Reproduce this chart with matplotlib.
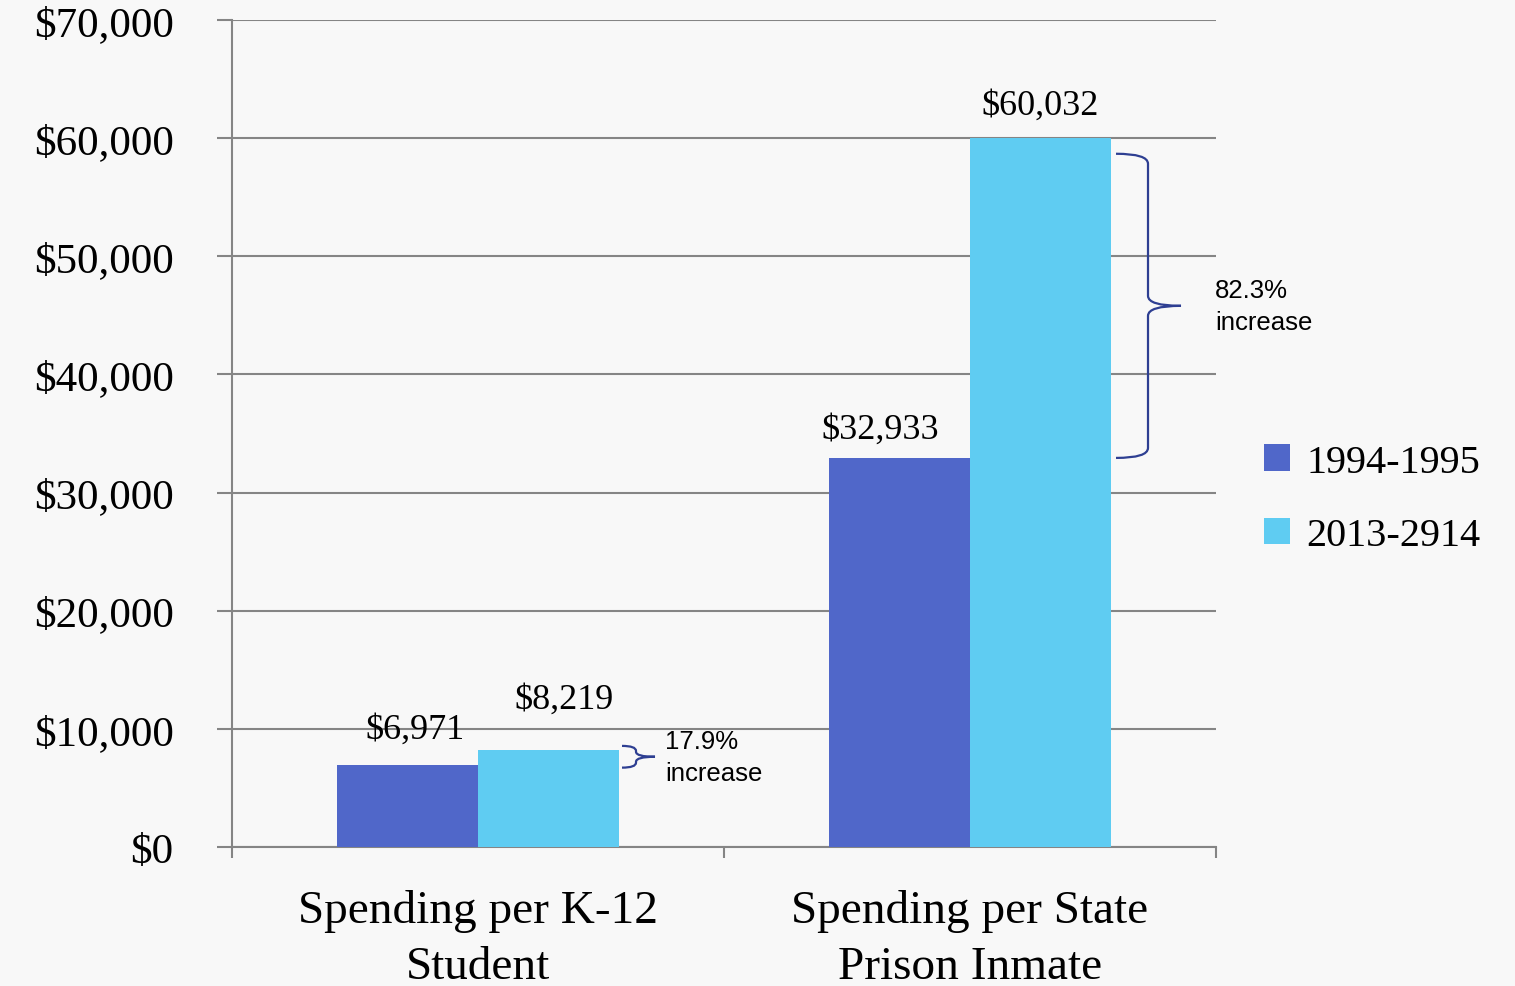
import matplotlib
matplotlib.use("Agg")
import matplotlib.pyplot as plt
from matplotlib.path import Path
from matplotlib.patches import PathPatch, Patch
import numpy as np

# ---- data ----
categories = ["Spending per K-12\nStudent", "Spending per State\nPrison Inmate"]
series_names = ["1994-1995", "2013-2914"]
values_1994 = [6971, 32933]
values_2013 = [8219, 60032]
value_labels_1994 = ["$6,971", "$32,933"]
value_labels_2013 = ["$8,219", "$60,032"]
increase_labels = ["17.9%\nincrease", "82.3%\nincrease"]
yticks = [0, 10000, 20000, 30000, 40000, 50000, 60000, 70000]
ytick_labels = ["$0", "$10,000", "$20,000", "$30,000", "$40,000", "$50,000", "$60,000", "$70,000"]

# ---- style ----
C1 = "#5067C9"
C2 = "#5FCCF2"
BRACE = "#2E3F92"
GRID = "#858585"
BG = "#F8F8F8"
SERIF = ["Liberation Serif", "DejaVu Serif"]
SANS = ["Liberation Sans", "DejaVu Sans"]

W, H = 1515, 987
fig = plt.figure(figsize=(W / 100, H / 100), dpi=100, facecolor=BG)
ax = fig.add_axes([232 / W, 1 - 848 / H, (1216 - 232) / W, (848 - 21) / H])
ax.set_facecolor(BG)

x = np.arange(len(categories))
bw = 0.2866
ax.bar(x - bw / 2, values_1994, bw, color=C1, zorder=3)
ax.bar(x + bw / 2, values_2013, bw, color=C2, zorder=3)

ax.set_xlim(-0.5, len(categories) - 0.5)
ax.set_ylim(0, 70000)

# grid / spines
ax.set_yticks(yticks)
ax.set_yticklabels(ytick_labels, fontsize=31, family=SERIF)
ax.yaxis.grid(True, color=GRID, lw=1.5, zorder=0)
ax.set_axisbelow(True)
for s in ["top", "right"]:
    ax.spines[s].set_visible(False)
for s in ["left", "bottom"]:
    ax.spines[s].set_color(GRID)
    ax.spines[s].set_linewidth(1.5)
ax.tick_params(axis="y", length=11, width=1.5, color=GRID, pad=31, direction="out")

ax.set_xticks(x)
ax.set_xticklabels(categories, fontsize=34, family=SERIF, linespacing=1.42)
ax.tick_params(axis="x", which="major", length=0, pad=30)
ax.set_xticks(np.arange(-0.5, len(categories), 1.0), minor=True)
ax.tick_params(axis="x", which="minor", length=8, width=1.5, color=GRID, direction="out")

# px -> data conversion
fig.canvas.draw()
p0 = ax.transData.transform((0, 0))
p1 = ax.transData.transform((1, 10000))
px_x = 1.0 / (p1[0] - p0[0])
px_y = 10000.0 / (p1[1] - p0[1])

# value labels (offsets in px: dx, dy above bar top)
offs_1994 = [(8, 35), (-19, 29)]
offs_2013 = [(16, 51), (0, 33)]
for i in range(len(categories)):
    ax.text(x[i] - bw / 2 + offs_1994[i][0] * px_x, values_1994[i] + offs_1994[i][1] * px_y,
            value_labels_1994[i], ha="center", va="center", fontsize=26, family=SERIF)
    ax.text(x[i] + bw / 2 + offs_2013[i][0] * px_x, values_2013[i] + offs_2013[i][1] * px_y,
            value_labels_2013[i], ha="center", va="center", fontsize=26, family=SERIF)


def brace(x_edge, y_lo, y_hi, start_px, vert_px, tip_px, r_px):
    x0 = x_edge + start_px * px_x
    xv = x_edge + vert_px * px_x
    xt = x_edge + tip_px * px_x
    ym = (y_lo + y_hi) / 2
    r = r_px * px_y
    verts = [
        (x0, y_hi), (xv, y_hi), (xv, y_hi - r),
        (xv, ym + r),
        (xv, ym), (xt, ym),
        (xv, ym), (xv, ym - r),
        (xv, y_lo + r),
        (xv, y_lo), (x0, y_lo),
    ]
    codes = [Path.MOVETO, Path.CURVE3, Path.CURVE3,
             Path.LINETO,
             Path.CURVE3, Path.CURVE3,
             Path.CURVE3, Path.CURVE3,
             Path.LINETO,
             Path.CURVE3, Path.CURVE3]
    ax.add_patch(PathPatch(Path(verts, codes), fill=False, ec=BRACE, lw=1.6,
                           clip_on=False, zorder=4))
    return xt, ym


# (start, vertical, tip, corner radius, top shift, bottom shift) in px
brace_geom = [(3, 17, 36, 5, 4, -3), (5, 37, 70, 10, -16, 0)]
text_gap = [10, 34]
for i in range(len(categories)):
    edge = x[i] + bw
    s, v, t, r, dt, db = brace_geom[i]
    xt, ym = brace(edge, values_1994[i] + db * px_y, values_2013[i] + dt * px_y, s, v, t, r)
    ax.text(xt + text_gap[i] * px_x, ym, increase_labels[i], ha="left", va="center",
            fontsize=18.5, family=SANS, linespacing=1.42, clip_on=False)

handles = [Patch(facecolor=C1, edgecolor="none"), Patch(facecolor=C2, edgecolor="none")]
fig.legend(handles, series_names, loc="center left", bbox_to_anchor=(1264 / W, 1 - 500 / H),
           frameon=False, prop={"family": SERIF, "size": 29}, handlelength=0.65, handleheight=0.65,
           handletextpad=0.4, labelspacing=0.9, borderaxespad=0, borderpad=0)

fig.savefig("out.png", dpi=100, facecolor=BG)
